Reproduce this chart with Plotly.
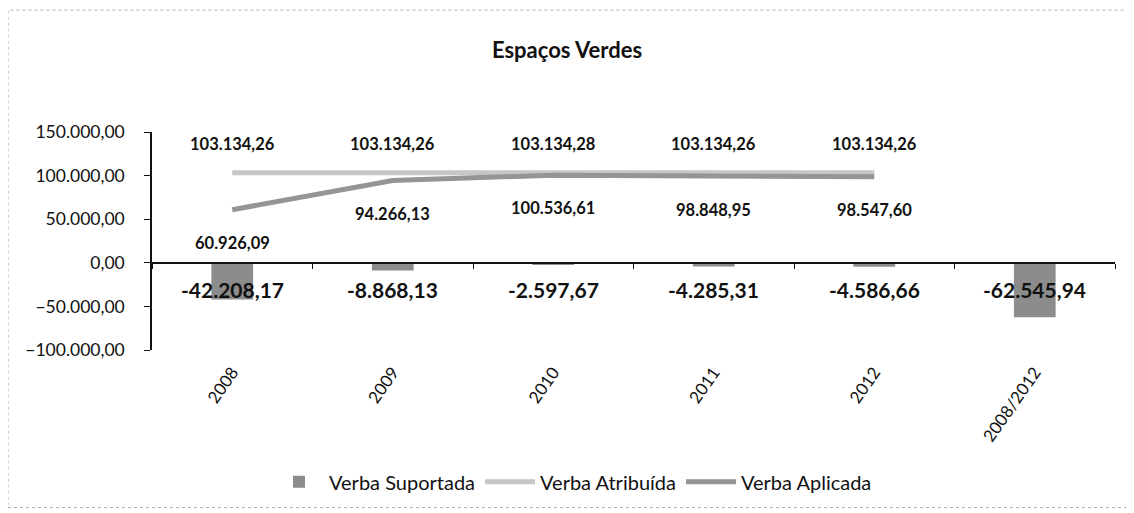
import plotly.graph_objects as go

categories = ["2008", "2009", "2010", "2011", "2012", "2008/2012"]
years = ["2008", "2009", "2010", "2011", "2012"]
verba_suportada = [-42208.17, -8868.13, -2597.67, -4285.31, -4586.66, -62545.94]
verba_atribuida = [103134.26, 103134.26, 103134.28, 103134.26, 103134.26]
verba_aplicada = [60926.09, 94266.13, 100536.61, 98848.95, 98547.60]
y_range = [-100000, 150000]
y_ticks = [-100000, -50000, 0, 50000, 100000, 150000]


def fmt(v):
    s = f"{v:,.2f}"
    return s.replace(",", "X").replace(".", ",").replace("X", ".")


FONT = "Lato, Calibri, Carlito, sans-serif"
x_range = [-0.5, len(categories) - 0.5]
W, H = 1126, 505
L, R, T, B = 144, 19, 124, 161
PW, PH = W - L - R, H - T - B

fig = go.Figure()
fig.add_trace(go.Bar(x=categories, y=verba_suportada, name="Verba Suportada",
                     marker=dict(color="#8c8c8c", line=dict(width=0)), width=0.26))
fig.add_trace(go.Scatter(x=years, y=verba_atribuida, name="Verba Atribuída", mode="lines",
                         line=dict(color="#c6c6c6", width=5)))
fig.add_trace(go.Scatter(x=years, y=verba_aplicada, name="Verba Aplicada", mode="lines",
                         line=dict(color="#959595", width=5)))
# invisible trace for the zero-line axis with boundary ticks
fig.add_trace(go.Bar(x=categories, y=[0] * len(categories), xaxis="x2",
                     showlegend=False, hoverinfo="skip", marker=dict(opacity=0)))

annotations = []
for i, v in enumerate(verba_suportada):
    annotations.append(dict(x=i, y=0, text=f"<b>{fmt(v)}</b>", showarrow=False, yshift=-27,
                            font=dict(family=FONT, size=21, color="#111"), yanchor="middle"))
for i, v in enumerate(verba_atribuida):
    annotations.append(dict(x=i, y=v, text=f"<b>{fmt(v)}</b>", showarrow=False, yshift=29,
                            font=dict(family=FONT, size=16.5, color="#111"), yanchor="middle"))
for i, v in enumerate(verba_aplicada):
    annotations.append(dict(x=i, y=v, text=f"<b>{fmt(v)}</b>", showarrow=False, yshift=-33,
                            font=dict(family=FONT, size=16.5, color="#111"), yanchor="middle"))

fig.update_layout(
    width=W, height=H,
    margin=dict(l=L, r=R, t=T, b=B),
    paper_bgcolor="white", plot_bgcolor="white",
    separators=",.",
    title=dict(text="<b>Espaços Verdes</b>", x=(567 - 8) / W, xanchor="center",
               y=1 - 42 / H, yanchor="middle",
               font=dict(family=FONT, size=22, color="#111")),
    font=dict(family=FONT, color="#111"),
    xaxis=dict(type="category", categoryorder="array", categoryarray=categories,
               range=x_range, tickangle=-55, showline=False, ticks="", showgrid=False,
               ticklabelstandoff=8,
               tickfont=dict(family=FONT, size=17, color="#111"), zeroline=False),
    xaxis2=dict(type="category", categoryorder="array", categoryarray=categories,
                range=x_range, overlaying="x", anchor="free", position=0.4,
                showline=True, linecolor="#111", linewidth=1.5, ticks="outside",
                tickson="boundaries", ticklen=5, tickcolor="#111",
                showticklabels=False, showgrid=False, zeroline=False),
    yaxis=dict(range=y_range, tickvals=y_ticks, tickformat=",.2f", showgrid=False,
               showline=True, linecolor="#111", linewidth=1.5, ticks="outside",
               ticklen=6, tickcolor="#111", zeroline=False, ticklabelstandoff=16,
               tickfont=dict(family=FONT, size=17.5, color="#111")),
    barmode="overlay",
    showlegend=True,
    legend=dict(orientation="h", x=(573 - 152) / PW, xanchor="center",
                y=-(485 - 352) / PH, yanchor="middle",
                font=dict(family=FONT, size=20, color="#111"), itemwidth=50,
                traceorder="normal"),
    annotations=annotations,
    shapes=[dict(type="rect", xref="paper", yref="paper",
                 x0=-L / PW, x1=(W - 4 - L) / PW,
                 y0=-(B - 2) / PH, y1=(PH + T - 1) / PH,
                 line=dict(color="#b0b0b0", width=1, dash="dot"), layer="below")],
)

fig.write_html("out.html")
